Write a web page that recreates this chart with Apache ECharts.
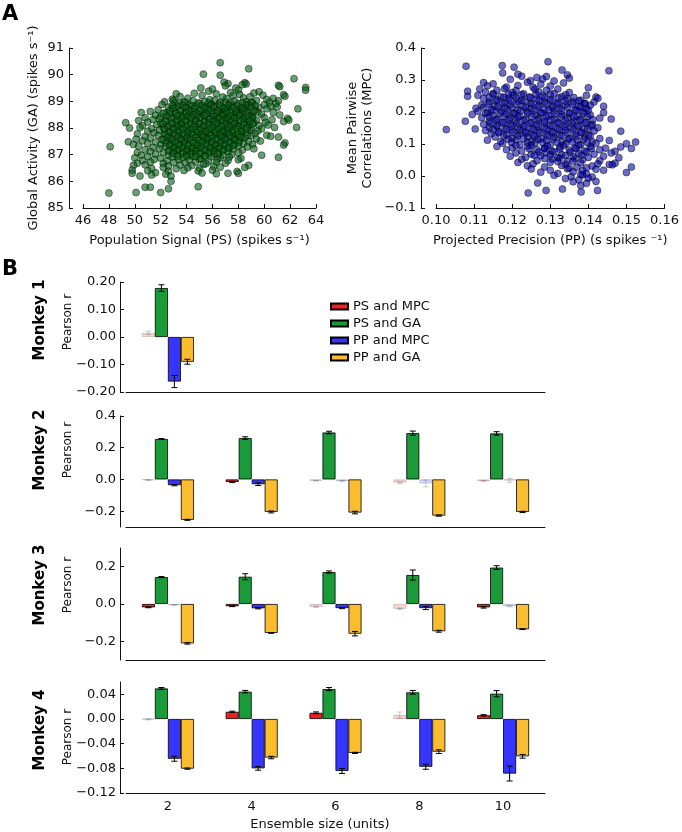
<!DOCTYPE html>
<html><head><meta charset="utf-8">
<script src="https://cdn.jsdelivr.net/npm/echarts@6/dist/echarts.min.js"></script>
<style>html,body{margin:0;padding:0;background:#fff}#c{width:682px;height:832px}</style>
</head><body><div id="c"></div>
<script>
// ---------- Panel A data ----------
const psGA = [
[56.6,90.45],[58.8,90.22],[55.3,90.02],[56.6,89.98],[62.3,89.85],
[56.9,89.72],[57.2,89.66],[58.5,89.7],[58.6,89.65],
[57.0,89.58],[58.3,89.62],[61.1,89.6],[61.2,89.55],
[55.1,89.5],[63.2,89.52],[56.0,89.46],[57.8,89.5],
[63.2,89.42],[55.7,89.38],[58.0,89.42],[59.6,89.36],
[54.6,89.3],[56.3,89.28],[57.4,89.33],[58.1,89.26],[59.2,89.31],[61.5,89.25],[53.2,89.28],
[53.5,89.18],[55.2,89.22],[56.8,89.16],[57.6,89.21],[58.9,89.17],[59.9,89.23],[61.6,89.19],
[52.9,89.08],[54.1,89.12],[55.8,89.06],[57.1,89.1],[58.4,89.13],[60.2,89.07],[60.7,89.11],
[52.3,88.98],[53.0,89.03],[53.8,88.97],[54.5,89.02],[55.4,88.99],[56.2,89.04],[57.0,88.96],[57.7,89.01],[58.6,88.98],[59.4,89.03],[60.4,88.97],[61.1,89.02],
[52.1,88.88],[53.4,88.92],[54.2,88.87],[55.0,88.93],[55.9,88.89],[56.5,88.91],[57.3,88.86],[58.0,88.92],[58.8,88.88],[59.1,88.94],[60.0,88.87],[60.9,88.91],
[52.6,88.78],[53.3,88.82],[54.0,88.77],[54.7,88.83],[55.5,88.79],[56.1,88.81],[56.8,88.76],[57.5,88.82],[58.2,88.78],[58.9,88.83],[59.6,88.77],[60.5,88.81],[61.0,88.78],
[51.8,88.68],[52.9,88.72],[53.6,88.67],[54.4,88.71],[55.2,88.69],[55.8,88.73],[56.4,88.66],[57.2,88.72],[57.9,88.68],[58.5,88.71],[59.3,88.67],[60.2,88.72],[62.6,88.72],
[50.5,88.58],[51.2,88.62],[52.4,88.57],[53.1,88.61],[53.9,88.59],[54.6,88.63],[55.3,88.56],[56.0,88.62],[56.7,88.58],[57.4,88.61],[58.1,88.57],[58.7,88.62],[59.5,88.59],[60.7,88.58],
[51.6,88.48],[52.7,88.52],[53.5,88.47],[54.2,88.51],[54.9,88.49],[55.6,88.53],[56.2,88.46],[56.9,88.52],[57.6,88.48],[58.3,88.51],[59.0,88.47],[59.8,88.52],[61.2,88.49],
[50.8,88.38],[52.0,88.42],[53.0,88.37],[53.7,88.41],[54.4,88.39],[55.1,88.43],[55.7,88.36],[56.4,88.42],[57.0,88.38],[57.7,88.41],[58.4,88.37],[59.1,88.42],[60.0,88.39],[61.8,88.36],
[50.3,88.28],[51.4,88.32],[52.4,88.27],[53.3,88.31],[54.0,88.29],[54.7,88.33],[55.4,88.26],[56.1,88.32],[56.7,88.28],[57.3,88.31],[58.0,88.27],[58.7,88.32],[59.4,88.29],[60.6,88.31],[61.9,88.3],
[49.3,88.2],[51.0,88.22],[52.0,88.17],[52.8,88.21],[53.6,88.19],[54.3,88.23],[55.0,88.16],[55.7,88.22],[56.4,88.18],[57.1,88.21],[57.8,88.17],[58.5,88.22],[59.2,88.19],[60.1,88.21],[61.5,88.24],
[50.6,88.08],[51.7,88.12],[52.5,88.07],[53.2,88.11],[53.9,88.09],[54.6,88.13],[55.3,88.06],[56.0,88.12],[56.6,88.08],[57.3,88.11],[58.0,88.07],[58.8,88.12],[59.6,88.09],[60.3,88.11],
[49.6,88.0],[50.4,88.02],[51.3,87.97],[52.2,88.01],[52.9,87.99],[53.5,88.03],[54.2,87.96],[54.9,88.02],[55.6,87.98],[56.3,88.01],[57.0,87.97],[57.6,88.02],[58.3,87.99],[59.0,88.01],[59.8,87.97],[60.8,88.02],[62.5,88.02],
[51.0,87.88],[51.9,87.92],[52.6,87.87],[53.3,87.91],[54.0,87.89],[54.7,87.93],[55.4,87.86],[56.1,87.92],[56.8,87.88],[57.5,87.91],[58.2,87.87],[58.9,87.92],[59.5,87.89],
[50.2,87.78],[51.5,87.82],[52.3,87.77],[53.0,87.81],[53.7,87.79],[54.4,87.83],[55.1,87.76],[55.8,87.82],[56.5,87.78],[57.2,87.81],[57.9,87.77],[58.6,87.82],[59.3,87.79],[60.2,87.73],
[50.8,87.68],[51.8,87.72],[52.7,87.67],[53.4,87.71],[54.1,87.69],[54.8,87.73],[55.5,87.66],[56.2,87.72],[56.9,87.68],[57.6,87.71],[58.3,87.67],[59.0,87.72],[60.5,87.69],[61.1,87.66],
[50.1,87.58],[51.2,87.62],[52.1,87.57],[52.9,87.61],[53.6,87.59],[54.3,87.63],[55.0,87.56],[55.7,87.62],[56.4,87.58],[57.1,87.61],[57.8,87.57],[58.5,87.62],[59.4,87.59],
[49.5,87.48],[50.6,87.52],[51.6,87.47],[52.5,87.51],[53.2,87.49],[53.9,87.53],[54.6,87.46],[55.3,87.52],[56.0,87.48],[56.7,87.51],[57.4,87.47],[58.1,87.52],[58.8,87.49],[59.7,87.51],[61.6,87.44],
[49.9,87.38],[51.0,87.42],[52.0,87.37],[52.8,87.41],[53.5,87.39],[54.2,87.43],[54.9,87.36],[55.6,87.42],[56.3,87.38],[57.0,87.41],[57.7,87.37],[58.4,87.42],[59.1,87.39],[61.5,87.36],
[48.1,87.3],[50.3,87.32],[51.4,87.27],[52.4,87.31],[53.1,87.29],[53.8,87.33],[54.5,87.26],[55.2,87.32],[55.9,87.28],[56.6,87.31],[57.3,87.27],[58.0,87.32],[58.7,87.29],
[50.8,87.18],[51.9,87.22],[52.7,87.17],[53.4,87.21],[54.1,87.19],[54.8,87.23],[55.5,87.16],[56.2,87.22],[56.9,87.18],[57.6,87.21],[58.3,87.17],[59.2,87.22],
[50.2,87.08],[51.2,87.12],[52.2,87.07],[53.0,87.11],[53.7,87.09],[54.4,87.13],[55.1,87.06],[55.8,87.12],[56.5,87.08],[57.2,87.11],[58.0,87.07],
[50.5,86.98],[51.6,87.02],[52.6,86.97],[53.3,87.01],[54.0,86.99],[54.7,87.03],[55.4,86.96],[56.1,87.02],[56.8,86.98],[57.5,87.01],[59.8,86.98],[61.1,86.9],
[50.0,86.88],[51.0,86.92],[52.0,86.87],[52.9,86.91],[53.7,86.89],[54.4,86.93],[55.1,86.86],[55.9,86.92],[56.6,86.88],[57.3,86.91],[58.2,86.87],
[50.6,86.78],[51.5,86.82],[52.5,86.77],[53.4,86.81],[54.2,86.79],[55.0,86.83],[55.7,86.76],[56.4,86.82],[57.2,86.78],[58.0,86.81],
[50.2,86.68],[51.2,86.72],[52.2,86.67],[53.0,86.71],[53.9,86.69],[54.7,86.73],[55.5,86.66],[56.3,86.72],[57.0,86.68],
[49.9,86.6],[50.8,86.62],[52.6,86.57],[53.5,86.61],[54.4,86.59],[55.3,86.63],[56.1,86.56],[58.8,86.6],
[51.3,86.48],[52.2,86.52],[53.2,86.47],[54.1,86.51],[55.0,86.49],[56.6,86.53],[58.5,86.52],
[49.8,86.42],[51.0,86.4],[52.6,86.38],[53.8,86.41],[54.9,86.39],[56.0,86.42],[57.9,86.37],
[49.8,86.3],[51.6,86.32],[52.4,86.27],[55.2,86.31],[56.3,86.28],[57.2,86.3],[58.0,86.3],
[50.4,86.2],[51.3,86.24],[52.8,86.2],
[52.8,86.0],
[50.8,85.78],[51.2,85.78],[54.9,85.8],
[52.6,85.72],
[48.0,85.56],[50.1,85.58],[52.0,85.58]
];
// extra points of the dense core of the PS/GA cloud
const psGAcore = [
[53.1,88.95],[53.9,88.96],[54.9,88.94],[55.7,88.95],[56.6,88.97],[57.4,88.94],[58.3,88.95],[59.0,88.96],
[52.9,88.84],[53.7,88.85],[54.4,88.83],[55.2,88.84],[55.9,88.86],[56.6,88.83],[57.2,88.85],[57.9,88.84],[58.6,88.86],[59.3,88.83],
[53.0,88.74],[53.9,88.75],[54.6,88.73],[55.4,88.74],[56.1,88.76],[56.9,88.73],[57.6,88.75],[58.3,88.74],[59.0,88.76],
[52.7,88.64],[53.5,88.65],[54.2,88.63],[55.0,88.64],[55.7,88.66],[56.4,88.63],[57.0,88.65],[57.8,88.64],[58.4,88.66],[59.2,88.63],
[52.2,88.55],[53.2,88.54],[54.0,88.56],[54.8,88.55],[55.5,88.53],[56.3,88.55],[57.1,88.56],[57.9,88.54],[58.6,88.55],
[52.5,88.44],[53.3,88.45],[54.1,88.43],[54.8,88.44],[55.4,88.46],[56.1,88.43],[56.8,88.45],[57.4,88.44],[58.1,88.46],[58.8,88.43],
[51.9,88.34],[52.8,88.35],[53.6,88.33],[54.3,88.34],[55.0,88.36],[55.8,88.33],[56.5,88.35],[57.1,88.34],[57.7,88.36],[58.4,88.33],[59.1,88.35],
[52.4,88.25],[53.2,88.24],[53.9,88.26],[54.7,88.25],[55.4,88.23],[56.1,88.25],[56.8,88.26],[57.5,88.24],[58.2,88.25],[58.9,88.26],
[52.2,88.14],[52.9,88.15],[53.6,88.13],[54.3,88.14],[55.0,88.16],[55.7,88.13],[56.3,88.15],[57.0,88.14],[57.7,88.16],[58.4,88.13],[59.1,88.15],
[52.6,88.04],[53.3,88.05],[54.0,88.03],[54.6,88.04],[55.3,88.06],[56.0,88.03],[56.7,88.05],[57.3,88.04],[58.0,88.06],[58.7,88.03],
[52.3,87.95],[53.0,87.94],[53.7,87.96],[54.4,87.95],[55.1,87.93],[55.8,87.95],[56.5,87.96],[57.2,87.94],[57.9,87.95],[58.6,87.96],
[52.7,87.84],[53.4,87.85],[54.1,87.83],[54.8,87.84],[55.5,87.86],[56.2,87.83],[56.8,87.85],[57.5,87.84],[58.2,87.86],
[52.4,87.74],[53.1,87.75],[53.8,87.73],[54.5,87.74],[55.2,87.76],[55.9,87.73],[56.6,87.75],[57.3,87.74],[58.0,87.76],[58.7,87.73],
[52.5,87.64],[53.3,87.65],[54.0,87.63],[54.7,87.64],[55.3,87.66],[56.0,87.63],[56.7,87.65],[57.4,87.64],[58.1,87.66],
[52.2,87.55],[52.9,87.54],[53.6,87.56],[54.3,87.55],[54.9,87.53],[55.6,87.55],[56.3,87.56],[57.0,87.54],[57.7,87.55],
[52.4,87.44],[53.1,87.45],[53.8,87.43],[54.5,87.44],[55.2,87.46],[55.9,87.43],[56.6,87.45],[57.3,87.44],[58.0,87.46],
[52.7,87.34],[53.4,87.35],[54.1,87.33],[54.8,87.34],[55.5,87.36],[56.2,87.33],[56.9,87.35],[57.6,87.34],
[53.0,87.24],[53.7,87.25],[54.4,87.23],[55.1,87.24],[55.8,87.26],[56.5,87.23],[57.2,87.25],
[52.6,87.14],[53.3,87.15],[54.0,87.13],[54.7,87.14],[55.4,87.16],[56.1,87.13],[56.8,87.15],
[53.0,87.04],[53.7,87.05],[54.3,87.03],[55.0,87.04],[55.7,87.06],[56.4,87.03],
[53.3,86.94],[54.0,86.95],[54.7,86.93],[55.4,86.94]
];
const ppMPC = [
[0.1294,0.357],[0.1174,0.345],[0.1079,0.343],[0.1205,0.340],[0.1331,0.331],[0.1454,0.329],
[0.1175,0.322],[0.1215,0.318],[0.1345,0.316],
[0.1225,0.312],[0.1265,0.308],[0.1290,0.311],[0.1350,0.306],
[0.1195,0.302],[0.1248,0.298],[0.1280,0.303],[0.1310,0.297],
[0.1125,0.292],[0.1150,0.288],[0.1240,0.293],[0.1275,0.287],[0.1335,0.291],
[0.1135,0.282],[0.1185,0.278],[0.1215,0.283],[0.1255,0.277],[0.1300,0.281],[0.1400,0.276],
[0.1115,0.272],[0.1160,0.268],[0.1180,0.273],[0.1210,0.267],[0.1260,0.271],[0.1290,0.268],[0.1320,0.272],[0.1083,0.265],
[0.1130,0.262],[0.1150,0.258],[0.1200,0.261],[0.1230,0.257],[0.1270,0.263],[0.1310,0.258],[0.1350,0.261],
[0.1083,0.249],[0.1110,0.252],[0.1170,0.248],[0.1205,0.253],[0.1245,0.247],[0.1280,0.251],[0.1330,0.248],[0.1395,0.252],[0.1420,0.247],
[0.1125,0.242],[0.1160,0.238],[0.1190,0.243],[0.1225,0.237],[0.1265,0.241],[0.1300,0.238],[0.1345,0.242],[0.1380,0.237],[0.1425,0.243],
[0.1140,0.232],[0.1180,0.228],[0.1215,0.233],[0.1250,0.227],[0.1285,0.231],[0.1320,0.228],[0.1360,0.232],[0.1390,0.227],[0.1415,0.231],
[0.1120,0.222],[0.1155,0.218],[0.1195,0.223],[0.1230,0.217],[0.1270,0.221],[0.1305,0.218],[0.1340,0.222],[0.1375,0.217],[0.1405,0.221],[0.1440,0.218],
[0.1105,0.212],[0.1145,0.208],[0.1180,0.213],[0.1215,0.207],[0.1250,0.211],[0.1285,0.208],[0.1325,0.212],[0.1365,0.207],[0.1395,0.211],
[0.1110,0.202],[0.1135,0.198],[0.1170,0.203],[0.1205,0.197],[0.1240,0.201],[0.1275,0.198],[0.1310,0.202],[0.1350,0.197],[0.1385,0.201],[0.1440,0.198],
[0.1095,0.192],[0.1150,0.188],[0.1185,0.193],[0.1220,0.187],[0.1260,0.191],[0.1295,0.188],[0.1330,0.192],[0.1370,0.187],[0.1405,0.191],
[0.1120,0.182],[0.1160,0.178],[0.1195,0.183],[0.1235,0.177],[0.1270,0.181],[0.1310,0.178],[0.1345,0.182],[0.1380,0.177],[0.1430,0.181],[0.1460,0.178],
[0.1077,0.171],[0.1140,0.172],[0.1175,0.168],[0.1210,0.173],[0.1250,0.167],[0.1285,0.171],[0.1320,0.168],[0.1360,0.172],[0.1395,0.167],
[0.1125,0.162],[0.1160,0.158],[0.1195,0.163],[0.1230,0.157],[0.1265,0.161],[0.1300,0.158],[0.1340,0.162],[0.1375,0.157],[0.1410,0.161],
[0.1103,0.147],[0.1140,0.152],[0.1180,0.148],[0.1215,0.153],[0.1250,0.147],[0.1285,0.151],[0.1320,0.148],[0.1355,0.152],[0.1390,0.147],[0.1425,0.151],[0.1027,0.145],
[0.1130,0.142],[0.1165,0.138],[0.1200,0.143],[0.1235,0.137],[0.1270,0.141],[0.1305,0.138],[0.1340,0.142],[0.1380,0.137],[0.1415,0.141],[0.1485,0.140],
[0.1145,0.132],[0.1185,0.128],[0.1220,0.133],[0.1255,0.127],[0.1290,0.131],[0.1325,0.128],[0.1365,0.132],[0.1400,0.127],
[0.1155,0.122],[0.1200,0.118],[0.1240,0.123],[0.1275,0.117],[0.1310,0.121],[0.1350,0.118],[0.1390,0.122],[0.1430,0.117],
[0.1135,0.112],[0.1170,0.108],[0.1210,0.113],[0.1250,0.107],[0.1290,0.111],[0.1330,0.108],[0.1370,0.112],[0.1410,0.107],[0.1455,0.111],[0.1524,0.106],
[0.1175,0.102],[0.1220,0.098],[0.1260,0.103],[0.1300,0.097],[0.1340,0.101],[0.1380,0.098],[0.1420,0.102],[0.1500,0.101],
[0.1160,0.092],[0.1200,0.088],[0.1240,0.093],[0.1285,0.087],[0.1325,0.091],[0.1365,0.088],[0.1405,0.092],[0.1445,0.087],[0.1485,0.091],[0.1513,0.086],
[0.1185,0.082],[0.1225,0.078],[0.1265,0.083],[0.1305,0.077],[0.1350,0.081],[0.1390,0.078],[0.1430,0.082],[0.1470,0.077],
[0.1210,0.072],[0.1250,0.068],[0.1290,0.073],[0.1330,0.067],[0.1375,0.071],[0.1415,0.068],[0.1460,0.072],
[0.1195,0.062],[0.1235,0.058],[0.1275,0.063],[0.1320,0.057],[0.1360,0.061],[0.1400,0.058],[0.1440,0.062],[0.1480,0.057],
[0.1225,0.052],[0.1265,0.048],[0.1305,0.053],[0.1345,0.047],[0.1385,0.051],[0.1430,0.048],
[0.1215,0.042],[0.1255,0.038],[0.1300,0.043],[0.1340,0.037],[0.1380,0.041],[0.1425,0.038],[0.1455,0.036],[0.1470,0.040],
[0.1240,0.032],[0.1285,0.028],[0.1330,0.033],[0.1370,0.027],[0.1410,0.031],[0.1463,0.035],[0.1513,0.028],
[0.1250,0.022],[0.1300,0.018],[0.1345,0.023],[0.1385,0.017],[0.1420,0.021],[0.1440,0.018],
[0.1275,0.012],[0.1320,0.008],[0.1360,0.013],[0.1395,0.007],[0.1500,0.011],
[0.1310,0.002],[0.1355,-0.002],[0.1385,0.003],[0.1410,-0.003],
[0.1340,-0.008],[0.1375,-0.012],[0.1400,-0.007],
[0.1267,-0.022],[0.1360,-0.018],[0.1395,-0.023],[0.1420,-0.017],
[0.1380,-0.030],
[0.1289,-0.045],[0.1332,-0.041],[0.1424,-0.045],
[0.1242,-0.053],[0.1381,-0.050]
];
// extra points of the dense core of the PP/MPC cloud
const ppMPCcore = [
[0.1150,0.255],[0.1190,0.256],[0.1225,0.254],[0.1262,0.255],[0.1300,0.256],[0.1340,0.254],
[0.1140,0.245],[0.1178,0.246],[0.1210,0.244],[0.1248,0.245],[0.1285,0.246],[0.1322,0.244],[0.1362,0.245],
[0.1158,0.235],[0.1195,0.236],[0.1232,0.234],[0.1270,0.235],[0.1305,0.236],[0.1340,0.234],[0.1375,0.235],
[0.1138,0.225],[0.1175,0.226],[0.1212,0.224],[0.1250,0.225],[0.1288,0.226],[0.1322,0.224],[0.1358,0.225],[0.1392,0.226],
[0.1125,0.215],[0.1162,0.216],[0.1198,0.214],[0.1235,0.215],[0.1268,0.216],[0.1305,0.214],[0.1345,0.215],[0.1380,0.216],
[0.1150,0.205],[0.1188,0.206],[0.1222,0.204],[0.1258,0.205],[0.1295,0.206],[0.1330,0.204],[0.1368,0.205],[0.1400,0.206],
[0.1130,0.195],[0.1168,0.196],[0.1205,0.194],[0.1240,0.195],[0.1278,0.196],[0.1312,0.194],[0.1350,0.195],[0.1388,0.196],
[0.1140,0.185],[0.1178,0.186],[0.1215,0.184],[0.1252,0.185],[0.1290,0.186],[0.1328,0.184],[0.1362,0.185],[0.1398,0.186],
[0.1158,0.175],[0.1192,0.176],[0.1230,0.174],[0.1268,0.175],[0.1302,0.176],[0.1340,0.174],[0.1378,0.175],[0.1412,0.176],
[0.1142,0.165],[0.1178,0.166],[0.1212,0.164],[0.1248,0.165],[0.1285,0.166],[0.1322,0.164],[0.1358,0.165],[0.1392,0.166],
[0.1160,0.155],[0.1198,0.156],[0.1232,0.154],[0.1268,0.155],[0.1305,0.156],[0.1338,0.154],[0.1372,0.155],[0.1408,0.156],
[0.1150,0.145],[0.1185,0.146],[0.1220,0.144],[0.1255,0.145],[0.1290,0.146],[0.1325,0.144],[0.1360,0.145],[0.1398,0.146],
[0.1165,0.135],[0.1202,0.136],[0.1238,0.134],[0.1272,0.135],[0.1308,0.136],[0.1345,0.134],[0.1382,0.135],
[0.1178,0.125],[0.1215,0.126],[0.1258,0.124],[0.1292,0.125],[0.1330,0.126],[0.1368,0.124],[0.1405,0.125],
[0.1190,0.115],[0.1230,0.116],[0.1268,0.114],[0.1308,0.115],[0.1348,0.116],[0.1388,0.114],
[0.1198,0.105],[0.1240,0.106],[0.1280,0.104],[0.1318,0.105],[0.1358,0.106],[0.1398,0.104],
[0.1210,0.095],[0.1250,0.096],[0.1292,0.094],[0.1335,0.095],[0.1375,0.096],
[0.1245,0.085],[0.1285,0.086],[0.1325,0.084],[0.1368,0.085],[0.1408,0.086],
[0.1270,0.075],[0.1310,0.076],[0.1352,0.074],[0.1395,0.075],
[0.1258,0.065],[0.1300,0.066],[0.1340,0.064],[0.1382,0.065],
[0.1285,0.055],[0.1325,0.056],[0.1365,0.054],
[0.1320,0.045],[0.1360,0.046],
[0.1350,0.025],[0.1395,0.026],[0.1380,0.005]
];

// ---------- Panel B data ----------
const ensembleSizes = ['2','4','6','8','10'];
const seriesNames = ['PS and MPC','PS and GA','PP and MPC','PP and GA'];
const monkeyNames = ['Monkey 1','Monkey 2','Monkey 3','Monkey 4'];

// values per series: [PS&MPC, PS&GA, PP&MPC, PP&GA] x ensemble sizes
const monkey1Values = [[0.015,null,null,null,null],[0.178,null,null,null,null],[-0.162,null,null,null,null],[-0.090,null,null,null,null]];
const monkey1Errors = [[0.006,0,0,0,0],[0.012,0,0,0,0],[0.022,0,0,0,0],[0.009,0,0,0,0]];
const monkey1Faded  = [[1,0,0,0,0],[0,0,0,0,0],[0,0,0,0,0],[0,0,0,0,0]];

const monkey2Values = [[-0.004,-0.016,-0.008,-0.020,-0.010],[0.255,0.261,0.296,0.292,0.290],[-0.036,-0.030,-0.010,-0.025,-0.006],[-0.255,-0.205,-0.209,-0.228,-0.205]];
const monkey2Errors = [[0.002,0.004,0.003,0.006,0.004],[0.003,0.008,0.008,0.013,0.011],[0.004,0.008,0.004,0.022,0.012],[0.003,0.006,0.008,0.004,0.004]];
const monkey2Faded  = [[1,0,1,1,1],[0,0,0,0,0],[0,0,1,1,1],[0,0,0,0,0]];

const monkey3Values = [[-0.018,-0.012,-0.015,-0.026,-0.018],[0.144,0.146,0.171,0.155,0.195],[-0.006,-0.023,-0.022,-0.022,-0.012],[-0.211,-0.155,-0.159,-0.146,-0.135]];
const monkey3Errors = [[0.002,0.002,0.004,0.004,0.004],[0.003,0.016,0.006,0.027,0.010],[0.002,0.003,0.003,0.008,0.003],[0.004,0.002,0.012,0.005,0.002]];
const monkey3Faded  = [[0,0,1,1,0],[0,0,0,0,0],[1,0,0,0,1],[0,0,0,0,0]];

const monkey4Values = [[-0.0005,0.0117,0.0100,0.0064,0.0060],[0.0496,0.0443,0.0485,0.0432,0.0410],[-0.0645,-0.0800,-0.0843,-0.0775,-0.0885],[-0.0805,-0.0625,-0.0550,-0.0530,-0.0605]];
const monkey4Errors = [[0.001,0.001,0.0015,0.005,0.001],[0.0015,0.002,0.0025,0.003,0.005],[0.004,0.003,0.004,0.004,0.012],[0.001,0.002,0.001,0.003,0.003]];
const monkey4Faded  = [[1,0,0,1,0],[0,0,0,0,0],[0,0,0,0,0],[0,0,0,0,0]];

const panelMin = [-0.2,-0.3,-0.3,-0.12];
const panelMax = [0.2,0.4,0.3,0.06];
const panelTicks = [[-0.2,-0.1,0,0.1,0.2],[-0.2,0,0.2,0.4],[-0.2,0,0.2],[-0.12,-0.08,-0.04,0,0.04]];
const panelDecimals = [2,1,1,2];

// ---------- build ----------
const FONT = 'DejaVu Sans';
const barColors = ['#ee2020','#1a9a38','#3535ff','#fbbd30'];
const fmt = d => v => (v < -1e-9 ? '\u2212' : '') + Math.abs(v).toFixed(d);
const axisLineStyle = {color:'#111', width:1};
const labelStyle = {fontSize:13, color:'#111', fontFamily:FONT};

const panels = [
  {vals:monkey1Values, errs:monkey1Errors, faded:monkey1Faded},
  {vals:monkey2Values, errs:monkey2Errors, faded:monkey2Faded},
  {vals:monkey3Values, errs:monkey3Errors, faded:monkey3Faded},
  {vals:monkey4Values, errs:monkey4Errors, faded:monkey4Faded}
];
const panelLayout = [{top:282,height:110},{top:416,height:111},{top:548,height:112},{top:682,height:111}];

const grid = [
  {left:83, top:48, width:233, height:160},
  {left:436, top:48, width:232, height:160}
];
const xAxis = [
  {type:'value', gridIndex:0, min:46, max:64, interval:2, splitLine:{show:false},
   axisLine:{onZero:false, lineStyle:axisLineStyle}, axisTick:{inside:true,length:4,lineStyle:axisLineStyle},
   axisLabel:Object.assign({margin:6}, labelStyle),
   name:'Population Signal (PS) (spikes s\u207B\u00B9)', nameLocation:'middle', nameGap:26,
   nameTextStyle:labelStyle},
  {type:'value', gridIndex:1, min:0.10, max:0.16, interval:0.01, splitLine:{show:false},
   axisLine:{onZero:false, lineStyle:axisLineStyle}, axisTick:{inside:true,length:4,lineStyle:axisLineStyle},
   axisLabel:Object.assign({margin:6, formatter:fmt(2)}, labelStyle),
   name:'Projected Precision (PP) (s spikes \u207B\u00B9)', nameLocation:'middle', nameGap:26,
   nameTextStyle:labelStyle}
];
const yAxis = [
  {type:'value', gridIndex:0, min:85, max:91, interval:1, offset:14, splitLine:{show:false},
   axisLine:{onZero:false, lineStyle:axisLineStyle}, axisTick:{inside:true,length:4,lineStyle:axisLineStyle},
   axisLabel:Object.assign({margin:5}, labelStyle),
   name:'Global Activity (GA) (spikes s\u207B\u00B9)', nameLocation:'middle', nameGap:29,
   nameTextStyle:labelStyle},
  {type:'value', gridIndex:1, min:-0.1, max:0.4, interval:0.1, offset:15, splitLine:{show:false},
   axisLine:{onZero:false, lineStyle:axisLineStyle}, axisTick:{inside:true,length:4,lineStyle:axisLineStyle},
   axisLabel:Object.assign({margin:5, formatter:fmt(1)}, labelStyle),
   name:'Mean Pairwise\nCorrelations (MPC)', nameLocation:'middle', nameGap:46,
   nameTextStyle:Object.assign({lineHeight:15}, labelStyle)}
];
const greenDot = {color:'rgba(0,97,17,0.6)', borderColor:'rgba(0,0,0,0.55)', borderWidth:0.8, opacity:1};
const blueDot = {color:'rgba(0,0,165,0.58)', borderColor:'rgba(0,0,0,0.55)', borderWidth:0.8, opacity:1};
const series = [
  {type:'scatter', xAxisIndex:0, yAxisIndex:0, data:psGA, symbolSize:7, itemStyle:greenDot},
  {type:'scatter', xAxisIndex:0, yAxisIndex:0, data:psGAcore, symbolSize:7, itemStyle:greenDot},
  {type:'scatter', xAxisIndex:1, yAxisIndex:1, data:ppMPC, symbolSize:7, itemStyle:blueDot},
  {type:'scatter', xAxisIndex:1, yAxisIndex:1, data:ppMPCcore, symbolSize:7, itemStyle:blueDot}
];

const BARFRAC = 0.155;
function renderErr(params, api){
  const ci = api.value(0), si = api.value(1), v = api.value(2), e = api.value(3), f = api.value(4);
  const bw = api.size([1,0])[0] * BARFRAC;
  const c = api.coord([ci, v]);
  const x = c[0] + (si - 1.5) * bw;
  const top = api.coord([ci, v + e])[1], bot = api.coord([ci, v - e])[1];
  const cap = 3;
  const st = {stroke:'#000', lineWidth:1, opacity: f ? 0.2 : 1};
  return {type:'group', children:[
    {type:'line', shape:{x1:x,y1:top,x2:x,y2:bot}, style:st},
    {type:'line', shape:{x1:x-cap,y1:top,x2:x+cap,y2:top}, style:st},
    {type:'line', shape:{x1:x-cap,y1:bot,x2:x+cap,y2:bot}, style:st}
  ]};
}

panels.forEach((p, k) => {
  const gi = k + 2;
  grid.push({left:126, width:419, top:panelLayout[k].top, height:panelLayout[k].height});
  xAxis.push({type:'category', gridIndex:gi, data:ensembleSizes, boundaryGap:true,
    axisLine:{onZero:false, lineStyle:axisLineStyle},
    axisTick:{alignWithLabel:true, inside:true, length:4, lineStyle:axisLineStyle},
    axisLabel:Object.assign({show:k===3, margin:7}, labelStyle), splitLine:{show:false}});
  yAxis.push({type:'value', gridIndex:gi, min:panelMin[k], max:panelMax[k], offset:6,
    splitLine:{show:false}, axisLine:{show:true, onZero:false, lineStyle:axisLineStyle},
    axisTick:{show:true, inside:true, length:4, lineStyle:axisLineStyle, customValues:panelTicks[k]},
    axisLabel:Object.assign({margin:4, formatter:fmt(panelDecimals[k]), customValues:panelTicks[k]}, labelStyle)});
  const errData = [];
  p.vals.forEach((vals, s) => {
    series.push({type:'bar', name:seriesNames[s], xAxisIndex:gi, yAxisIndex:gi,
      barWidth:(BARFRAC*100)+'%', barGap:'0%',
      itemStyle:{color:barColors[s], borderColor:'#000', borderWidth:0.8},
      data: vals.map((v, i) => v === null ? '-' : (p.faded[s][i] ? {value:v, itemStyle:{opacity:0.2}} : v))});
    vals.forEach((v, i) => { if (v !== null) errData.push([i, s, v, p.errs[s][i], p.faded[s][i]]); });
  });
  series.push({type:'custom', xAxisIndex:gi, yAxisIndex:gi, renderItem:renderErr,
    encode:{x:0, y:2}, data:errData, z:10, silent:true});
});

const graphic = [
  {type:'text', left:2, top:4, style:{text:'A', font:'bold 21px "DejaVu Sans"', fill:'#000'}},
  {type:'text', left:2, top:259, style:{text:'B', font:'bold 21px "DejaVu Sans"', fill:'#000'}},
  {type:'text', x:320, y:825, style:{text:'Ensemble size (units)', font:'13px "DejaVu Sans"', fill:'#111', textAlign:'center', textVerticalAlign:'middle'}}
];
const monkeyY = [320, 450, 585, 730];
const pearsonY = [322, 450, 585, 737];
monkeyNames.forEach((m, k) => {
  graphic.push({type:'text', x:40, y:monkeyY[k], rotation:Math.PI/2,
    style:{text:m, font:'bold 15px "DejaVu Sans"', fill:'#000', textAlign:'center', textVerticalAlign:'middle'}});
  graphic.push({type:'text', x:68, y:pearsonY[k], rotation:Math.PI/2,
    style:{text:'Pearson r', font:'12px "DejaVu Sans"', fill:'#111', textAlign:'center', textVerticalAlign:'middle'}});
});

const chart = echarts.init(document.getElementById('c'), null, {renderer:'canvas'});
chart.setOption({
  animation:false,
  backgroundColor:'#fff',
  textStyle:{fontFamily:FONT},
  grid, xAxis, yAxis, series, graphic,
  legend:{data:seriesNames, orient:'vertical', left:325, top:294, itemWidth:17, itemHeight:6,
    itemGap:2, icon:'rect', selectedMode:false,
    textStyle:{fontSize:13, color:'#111', fontFamily:FONT, lineHeight:15}}
});
</script></body></html>
